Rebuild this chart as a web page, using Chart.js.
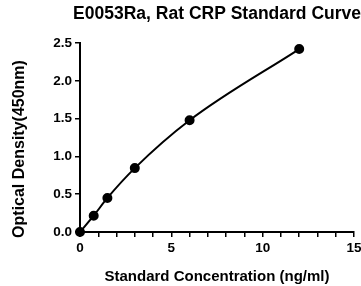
<!DOCTYPE html>
<html>
<head>
<meta charset="utf-8">
<script src="https://cdn.jsdelivr.net/npm/chart.js@4"></script>
<style>
  html, body { margin: 0; padding: 0; background: #fff; }
  #wrap { width: 361px; height: 286px; }
</style>
</head>
<body>
<div id="wrap"><canvas id="curve"></canvas></div>
<script>
// ── DATA ──
const concentrations = [0, 0.75, 1.5, 3, 6, 12];
const odValues = [0.0, 0.216, 0.45, 0.845, 1.478, 2.42];
const xTickLabels = [0, 5, 10, 15];
const yTickLabels = [0.0, 0.5, 1.0, 1.5, 2.0, 2.5];
const yAxisTitle = "Optical Density(450nm)";

const FONT = "'Liberation Sans', Arial, sans-serif";

const points = concentrations.map((x, i) => ({ x, y: odValues[i] }));

// y title sits a bit below the plot centre in the original, so draw it by hand
const yTitlePlugin = {
  id: "yTitle",
  afterDraw(chart) {
    const c = chart.ctx;
    c.save();
    c.translate(20, 149);
    c.rotate(-Math.PI / 2);
    c.font = "bold 16px " + FONT;
    c.fillStyle = "#000";
    c.textAlign = "center";
    c.textBaseline = "middle";
    c.fillText(yAxisTitle, 0, 0);
    c.restore();
  }
};

const ctx = document.getElementById("curve").getContext("2d");

new Chart(ctx, {
  type: "line",
  data: {
    datasets: [{
      data: points,
      borderColor: "#000",
      backgroundColor: "#000",
      borderWidth: 2,
      pointRadius: 4,
      pointBackgroundColor: "#000",
      cubicInterpolationMode: "monotone",
      fill: false,
      clip: false
    }]
  },
  plugins: [yTitlePlugin],
  options: {
    responsive: true,
    maintainAspectRatio: false,
    animation: false,
    layout: { padding: 0 },
    plugins: {
      legend: { display: false },
      tooltip: { enabled: false },
      title: {
        display: true,
        text: "E0053Ra, Rat CRP Standard Curve",
        color: "#000",
        align: "end",
        font: { family: FONT, size: 17.5, weight: "bold" },
        padding: { top: 4, bottom: 18 }
      }
    },
    scales: {
      x: {
        type: "linear",
        min: 0,
        max: 15,
        afterFit: s => { s.height = 54; s.paddingRight = 7; },
        border: { display: true, color: "#000", width: 2 },
        grid: { display: true, drawOnChartArea: false, drawTicks: true, tickLength: 5, color: "#000", lineWidth: 1.5 },
        ticks: {
          stepSize: 1,
          autoSkip: false,
          maxRotation: 0,
          color: "#000",
          padding: 3,
          font: { family: FONT, size: 13.5, weight: "bold" },
          callback: v => xTickLabels.includes(v) ? String(v) : ""
        },
        title: {
          display: true,
          text: "Standard Concentration (ng/ml)",
          color: "#000",
          font: { family: FONT, size: 15, weight: "bold" },
          padding: { top: 4, bottom: 0 }
        }
      },
      y: {
        type: "linear",
        min: 0,
        max: 2.5,
        afterFit: s => { s.width = 80; },
        border: { display: true, color: "#000", width: 2 },
        grid: { display: true, drawOnChartArea: false, drawTicks: true, tickLength: 5, color: "#000", lineWidth: 1.5 },
        ticks: {
          stepSize: 0.5,
          color: "#000",
          padding: 3,
          font: { family: FONT, size: 13.5, weight: "bold" },
          callback: v => yTickLabels.includes(v) ? v.toFixed(1) : ""
        },
        title: { display: false }
      }
    }
  }
});
</script>
</body>
</html>
